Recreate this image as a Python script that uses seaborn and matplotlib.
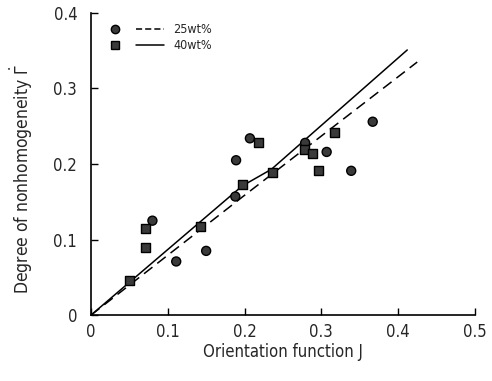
import numpy as np
import pandas as pd
import seaborn as sns
import matplotlib.pyplot as plt
from matplotlib.lines import Line2D
from matplotlib.legend_handler import HandlerTuple

# 25 wt% (circles)
j_25 = [0.080, 0.111, 0.150, 0.188, 0.189, 0.207, 0.279, 0.307, 0.339, 0.367]
g_25 = [0.125, 0.071, 0.085, 0.157, 0.205, 0.234, 0.228, 0.216, 0.191, 0.256]
# 40 wt% (squares)
j_40 = [0.050, 0.071, 0.071, 0.143, 0.198, 0.218, 0.237, 0.278, 0.288, 0.297, 0.317]
g_40 = [0.046, 0.115, 0.089, 0.117, 0.173, 0.228, 0.189, 0.219, 0.214, 0.192, 0.242]

# fitted lines
line_25_x = [0.0, 0.198, 0.425]
line_25_y = [0.0, 0.157, 0.335]
line_40_x = [0.0, 0.197, 0.235, 0.412]
line_40_y = [0.0, 0.171, 0.193, 0.351]

xticks = [0, 0.1, 0.2, 0.3, 0.4, 0.5]
xtick_labels = ["0", "0.1", "0.2", "0.3", "0.4", "0.5"]
yticks = [0, 0.1, 0.2, 0.3, 0.4]
ytick_labels = ["0", "0.1", "0.2", "0.3", "0.4"]

sns.set_style("ticks")
plt.rcParams['font.family'] = ['DejaVu Sans']
plt.rcParams['font.stretch'] = 'condensed'
plt.rcParams['mathtext.fontset'] = 'dejavusans'

fig = plt.figure(figsize=(4.92, 3.81), dpi=100)
ax = fig.add_axes([0.185, 0.173, 0.780, 0.793])

pts = pd.concat([
    pd.DataFrame({"J": j_25, "G": g_25, "conc": "25wt%"}),
    pd.DataFrame({"J": j_40, "G": g_40, "conc": "40wt%"}),
])
sns.scatterplot(data=pts, x="J", y="G", style="conc", markers={"25wt%": "o", "40wt%": "s"},
                color="#3a3a3a", edgecolor="black", linewidth=1.0, s=42, ax=ax, legend=False, zorder=3)

sns.lineplot(x=line_25_x, y=line_25_y, color="black", lw=1.1, ax=ax, dashes=False,
             linestyle=(0, (7, 4)))
sns.lineplot(x=line_40_x, y=line_40_y, color="black", lw=1.1, ax=ax)

ax.set_xlim(0, 0.5)
ax.set_ylim(0, 0.4)
ax.set_xticks(xticks, xtick_labels)
ax.set_yticks(yticks, ytick_labels)
ax.tick_params(direction="in", length=5, width=1, labelsize=12, color="black")
ax.tick_params(axis="x", pad=6)
ax.tick_params(axis="y", pad=10)
sns.despine(ax=ax)
for s in ["left", "bottom"]:
    ax.spines[s].set_color("black")
    ax.spines[s].set_linewidth(1.2)

ax.set_xlabel("Orientation function J", fontsize=12, labelpad=1)
ax.set_ylabel("Degree of nonhomogeneity $\\dot{\\Gamma}$", fontsize=12.5)
ax.yaxis.set_label_coords(-0.145, 0.45)

h25 = (Line2D([], [], marker="o", color="none", markerfacecolor="#3a3a3a", markeredgecolor="black", markersize=6),
       Line2D([], [], color="black", lw=1.1, linestyle=(0, (4, 2))))
h40 = (Line2D([], [], marker="s", color="none", markerfacecolor="#3a3a3a", markeredgecolor="black", markersize=6),
       Line2D([], [], color="black", lw=1.1))
ax.legend([h25, h40], ["25wt%", "40wt%"], handler_map={tuple: HandlerTuple(ndivide=None, pad=0.6)},
          loc="upper left", frameon=False, handlelength=5.0, fontsize=9, borderaxespad=0.4,
          labelspacing=0.25, handletextpad=0.8)

fig.savefig("out.png", dpi=100, facecolor="white")
